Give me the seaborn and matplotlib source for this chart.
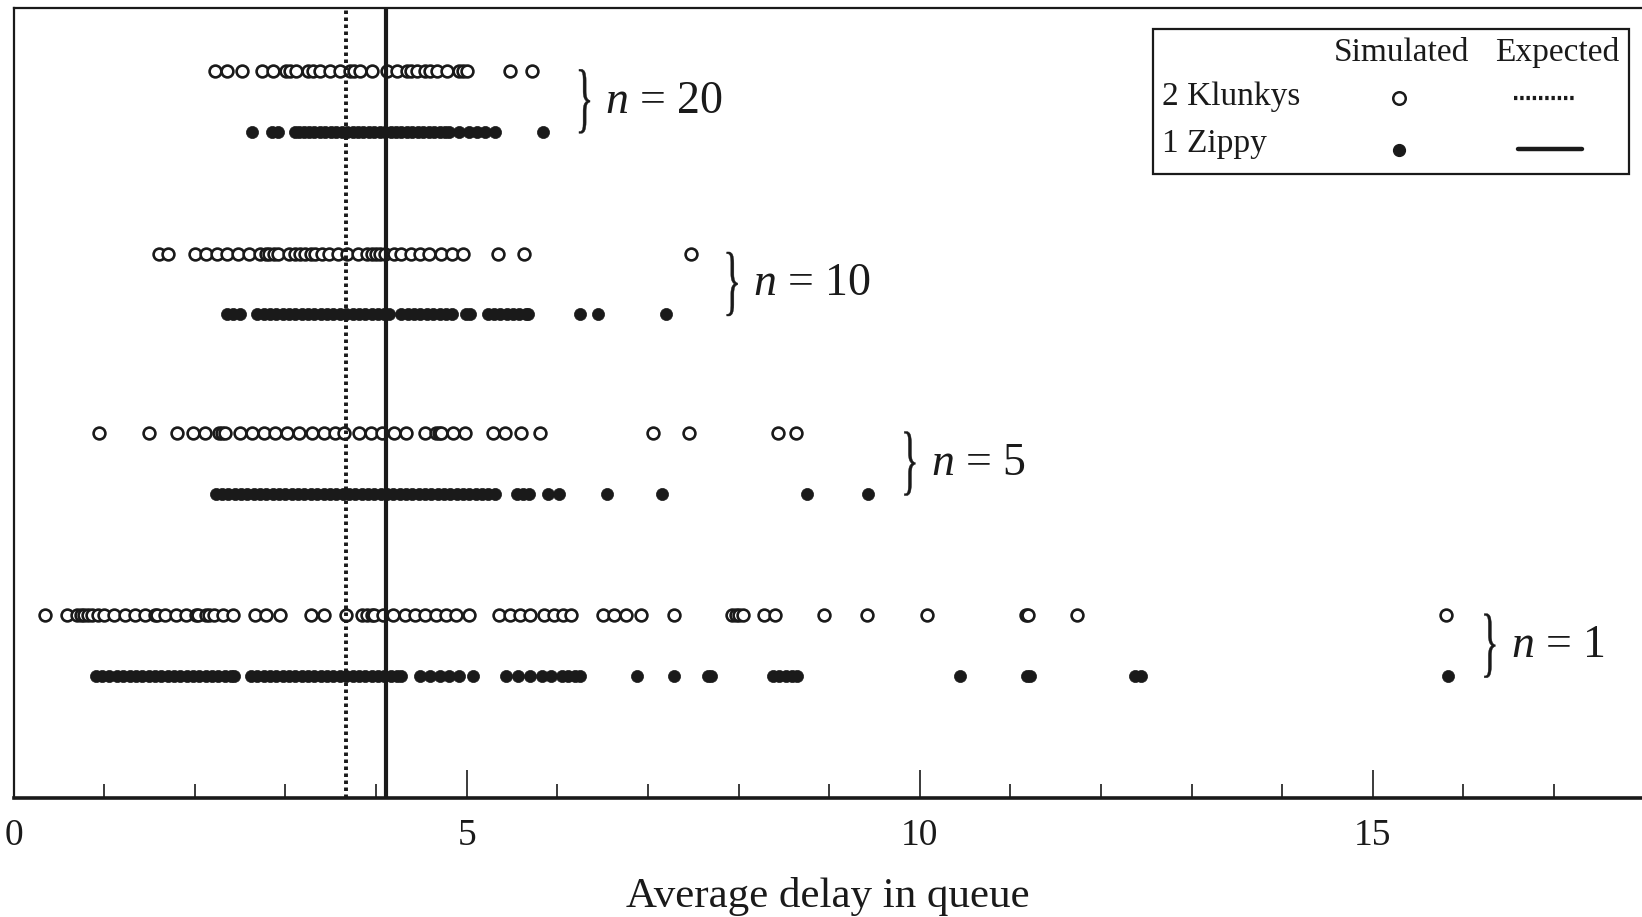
import numpy as np
import pandas as pd
import matplotlib
matplotlib.use("Agg")
import matplotlib.pyplot as plt
from matplotlib.lines import Line2D
from matplotlib.patches import Rectangle, PathPatch
from matplotlib.textpath import TextPath
from matplotlib.font_manager import FontProperties
from matplotlib.transforms import Affine2D, IdentityTransform
import seaborn as sns

# ---------------- data ----------------
sample_sizes = [20, 10, 5, 1]
group_labels = ["n = 20", "n = 10", "n = 5", "n = 1"]

klunkys_n20 = [2.22, 2.35, 2.52, 2.74, 2.86, 3.01, 3.05, 3.12, 3.25, 3.30, 3.38, 3.49, 3.60,
               3.71, 3.76, 3.82, 3.95, 4.12, 4.23, 4.34, 4.38, 4.45, 4.54, 4.60, 4.67, 4.78,
               4.92, 4.96, 5.00, 5.48, 5.72]
zippy_n20 = [2.63, 2.85, 2.92, 3.10, 3.15, 3.21, 3.26, 3.32, 3.38, 3.44, 3.50, 3.56, 3.62,
             3.68, 3.74, 3.80, 3.86, 3.92, 3.98, 4.04, 4.10, 4.16, 4.22, 4.28, 4.34, 4.40,
             4.46, 4.52, 4.58, 4.64, 4.70, 4.76, 4.81, 4.92, 5.02, 5.11, 5.20, 5.31, 5.84]

klunkys_n10 = [1.61, 1.70, 2.00, 2.12, 2.24, 2.36, 2.48, 2.60, 2.72, 2.78, 2.82, 2.87, 2.92,
               3.04, 3.10, 3.16, 3.22, 3.28, 3.33, 3.40, 3.48, 3.58, 3.68, 3.80, 3.90, 3.95,
               4.00, 4.04, 4.10, 4.20, 4.28, 4.38, 4.48, 4.58, 4.72, 4.84, 4.96, 5.35, 5.63,
               7.47]
zippy_n10 = [2.35, 2.42, 2.50, 2.69, 2.76, 2.83, 2.90, 2.97, 3.04, 3.11, 3.18, 3.25, 3.32,
             3.39, 3.46, 3.53, 3.60, 3.67, 3.74, 3.81, 3.88, 3.95, 4.02, 4.09, 4.14, 4.28,
             4.35, 4.42, 4.49, 4.56, 4.63, 4.70, 4.77, 4.84, 4.99, 5.04, 5.23, 5.30, 5.37,
             5.44, 5.51, 5.58, 5.65, 5.68, 6.25, 6.45, 7.20]

klunkys_n5 = [0.94, 1.49, 1.80, 1.98, 2.11, 2.27, 2.30, 2.33, 2.50, 2.63, 2.76, 2.89, 3.02,
              3.15, 3.29, 3.42, 3.55, 3.65, 3.81, 3.94, 4.07, 4.20, 4.33, 4.54, 4.66, 4.69,
              4.72, 4.85, 4.98, 5.29, 5.42, 5.60, 5.81, 7.06, 7.45, 8.44, 8.63]
zippy_n5 = [2.23, 2.30, 2.37, 2.44, 2.51, 2.58, 2.65, 2.72, 2.79, 2.86, 2.93, 3.00, 3.07,
            3.14, 3.21, 3.28, 3.35, 3.42, 3.49, 3.56, 3.63, 3.70, 3.77, 3.84, 3.91, 3.98,
            4.05, 4.12, 4.19, 4.26, 4.33, 4.40, 4.47, 4.54, 4.61, 4.68, 4.75, 4.82, 4.89,
            4.96, 5.03, 5.10, 5.17, 5.24, 5.31, 5.55, 5.62, 5.69, 5.90, 6.02, 6.55, 7.15,
            8.76, 9.43]

klunkys_n1 = [0.35, 0.59, 0.70, 0.74, 0.78, 0.82, 0.86, 0.93, 1.00, 1.11, 1.23, 1.34, 1.45,
              1.56, 1.58, 1.67, 1.79, 1.90, 2.01, 2.04, 2.12, 2.16, 2.21, 2.31, 2.42, 2.66,
              2.79, 2.94, 3.28, 3.43, 3.67, 3.85, 3.90, 3.95, 3.98, 4.08, 4.19, 4.32, 4.43,
              4.54, 4.66, 4.77, 4.88, 5.03, 5.36, 5.48, 5.59, 5.70, 5.85, 5.96, 6.06, 6.15,
              6.50, 6.63, 6.76, 6.92, 7.29, 7.93, 7.97, 8.00, 8.05, 8.28, 8.40, 8.94, 9.42,
              10.08, 11.17, 11.19, 11.73, 15.81]
zippy_n1 = [0.91, 0.98, 1.05, 1.14, 1.21, 1.28, 1.35, 1.42, 1.49, 1.56, 1.63, 1.70, 1.77,
            1.84, 1.91, 1.98, 2.05, 2.12, 2.19, 2.26, 2.33, 2.40, 2.43, 2.62, 2.69, 2.76,
            2.83, 2.90, 2.97, 3.04, 3.11, 3.18, 3.25, 3.32, 3.39, 3.46, 3.53, 3.60, 3.67,
            3.74, 3.81, 3.88, 3.95, 4.02, 4.09, 4.16, 4.23, 4.27, 4.48, 4.59, 4.70, 4.81,
            4.92, 5.07, 5.43, 5.57, 5.70, 5.83, 5.93, 6.05, 6.12, 6.20, 6.25, 6.88, 7.29,
            7.66, 7.70, 8.38, 8.45, 8.52, 8.59, 8.64, 10.44, 11.18, 11.22, 12.38, 12.44,
            15.83]

expected_klunkys = 3.67
expected_zippy = 4.11

systems = ["2 Klunkys", "1 Zippy"]
x_ticks = [0, 5, 10, 15]
x_label = "Average delay in queue"

# ---------------- assemble ----------------
klunkys = {20: klunkys_n20, 10: klunkys_n10, 5: klunkys_n5, 1: klunkys_n1}
zippy = {20: zippy_n20, 10: zippy_n10, 5: zippy_n5, 1: zippy_n1}
rows = []
for n in sample_sizes:
    for v in klunkys[n]:
        rows.append((n, systems[0], v))
    for v in zippy[n]:
        rows.append((n, systems[1], v))
df = pd.DataFrame(rows, columns=["n", "system", "delay"])

# layout: vertical placement of each row (in plot units)
group_center = {20: 665.5, 10: 491.0, 5: 319.5, 1: 145.5}
row_offset = {systems[0]: 29.0, systems[1]: -29.0}
df["row"] = df["n"].map(group_center) + df["system"].map(row_offset)

# ---------------- styling ----------------
sns.set_theme(style="white")
serif = ["Liberation Serif", "DejaVu Serif"]
plt.rcParams["font.family"] = serif
plt.rcParams["mathtext.fontset"] = "custom"
plt.rcParams["mathtext.rm"] = "Liberation Serif"
plt.rcParams["mathtext.it"] = "Liberation Serif:italic"

W, H = 1642, 917
fig = plt.figure(figsize=(W / 100, H / 100), dpi=100)
ax = fig.add_axes([13.6 / W, 1 - 798 / H, 1 - 13.6 / W, (798 - 7.6) / H])

ink = "#1a1a1a"

sns.scatterplot(data=df[df["system"] == systems[0]], x="delay", y="row", ax=ax,
                marker="o", s=72, color="white", edgecolor=ink, linewidth=1.9,
                zorder=3, legend=False)
sns.scatterplot(data=df[df["system"] == systems[1]], x="delay", y="row", ax=ax,
                marker="o", s=76, color=ink, edgecolor=ink, linewidth=0.5,
                zorder=3, legend=False)

ax.axvline(expected_klunkys, color=ink, lw=2.8, linestyle=(0, (0.9, 0.9)), zorder=4)
ax.axvline(expected_zippy, color=ink, lw=3.0, zorder=4)

ax.set_xlim(0, 17.97)
ax.set_ylim(0, 755)
ax.set_xticks(x_ticks)
ax.set_xticks(np.arange(1, 18), minor=True)
ax.set_yticks([])
ax.set_xlabel(x_label, fontsize=31, color=ink, labelpad=17)
ax.set_ylabel("")
ax.tick_params(axis="x", which="major", direction="in", length=20, width=1.2,
               colors=ink, labelsize=27, pad=15, bottom=True)
ax.tick_params(axis="x", which="minor", direction="in", length=10, width=1.2,
               colors=ink, bottom=True)
for side in ["top", "left"]:
    ax.spines[side].set_linewidth(1.6)
    ax.spines[side].set_color(ink)
ax.spines["bottom"].set_linewidth(2.6)
ax.spines["bottom"].set_color(ink)
ax.spines["right"].set_visible(False)

# group braces (tall, thin "}" glyph) and labels
brace = TextPath((0, 0), "}", size=1, prop=FontProperties(family="Liberation Serif"))
bb = brace.get_extents()
brace_h_px, brace_w_px = 64.0, 11.0
for n, lab in zip(sample_sizes, group_labels):
    xmax = max(max(klunkys[n]), max(zippy[n]))
    yc = group_center[n]
    cx, cy = ax.transData.transform((xmax + 0.46, yc))
    tr = (Affine2D()
          .translate(-(bb.x0 + bb.x1) / 2, -(bb.y0 + bb.y1) / 2)
          .scale(brace_w_px / bb.width, brace_h_px / bb.height)
          .translate(cx, cy))
    ax.add_artist(PathPatch(tr.transform_path(brace), transform=IdentityTransform(),
                            facecolor=ink, edgecolor=ink, lw=0.3, zorder=5))
    ax.text(xmax + 0.69, yc, "$n$ = " + lab.split("= ")[1], fontsize=33,
            va="center", ha="left", color=ink)

# ---------------- legend table ----------------
def fx(px):
    return px * 1.0472 / W

def fy(py):
    return 1 - py * 1.0472 / H

fig.patches.append(Rectangle((fx(1101), fy(166)), fx(1556) - fx(1101), fy(28) - fy(166),
                             transform=fig.transFigure, fill=True, facecolor="white",
                             edgecolor=ink, linewidth=1.6, zorder=10))
fs = 24
fig.text(fx(1338), fy(50), "Simulated", fontsize=fs, ha="center", va="center", color=ink, zorder=11)
fig.text(fx(1487), fy(50), "Expected", fontsize=fs, ha="center", va="center", color=ink, zorder=11)
fig.text(fx(1110), fy(92), systems[0], fontsize=fs, ha="left", va="center", color=ink, zorder=11)
fig.text(fx(1110), fy(137), systems[1], fontsize=fs, ha="left", va="center", color=ink, zorder=11)
fig.lines.append(Line2D([fx(1336)], [fy(94)], transform=fig.transFigure, marker="o",
                        markersize=9, markerfacecolor="white", markeredgecolor=ink,
                        markeredgewidth=1.8, linestyle="none", zorder=11))
fig.lines.append(Line2D([fx(1336)], [fy(143)], transform=fig.transFigure, marker="o",
                        markersize=8.5, markerfacecolor=ink, markeredgecolor=ink,
                        linestyle="none", zorder=11))
fig.lines.append(Line2D([fx(1446), fx(1505)], [fy(94), fy(94)], transform=fig.transFigure,
                        color=ink, lw=3.0, linestyle=(0, (0.8, 0.7)), zorder=11))
fig.lines.append(Line2D([fx(1450), fx(1511)], [fy(142), fy(142)], transform=fig.transFigure,
                        color=ink, lw=3.2, zorder=11))

fig.savefig("out.png", dpi=100, facecolor="white")
